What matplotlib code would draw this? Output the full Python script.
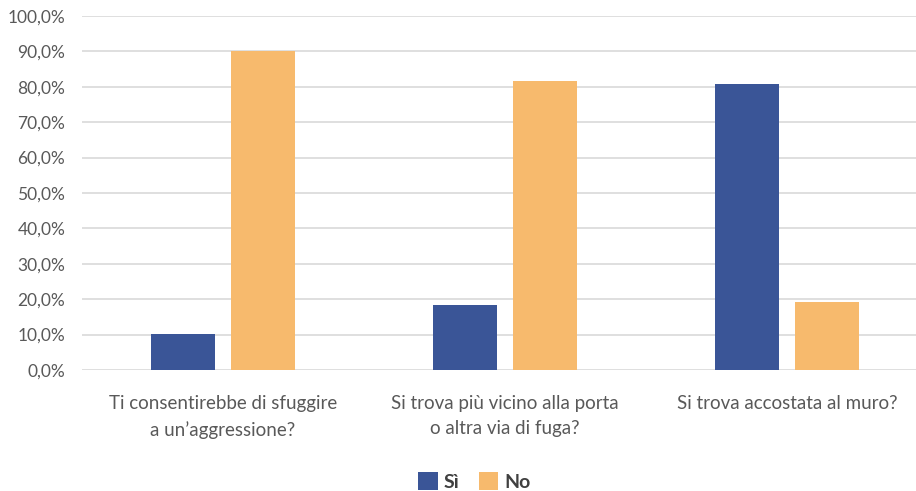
import numpy as np
import matplotlib.pyplot as plt
from matplotlib.ticker import FuncFormatter

plt.rcParams['font.family'] = ['Lato', 'DejaVu Sans']

categorie = ['Ti consentirebbe di sfuggire\na un\u2019aggressione?',
             'Si trova più vicino alla porta\no altra via di fuga?',
             'Si trova accostata al muro?']
si = [0.102, 0.184, 0.807]
no = [0.900, 0.817, 0.192]

col_si = '#3A5597'
col_no = '#F7BA6D'
grigio = '#595959'

fig = plt.figure(figsize=(9.16, 4.91), dpi=100)
ax = fig.add_axes([0.0895, 0.2464, 0.9236, 0.721])

x = np.arange(len(categorie))
w = 0.23
off = 0.142
ax.bar(x - off, si, width=w, color=col_si, label='Sì', zorder=3)
ax.bar(x + off, no, width=w, color=col_no, label='No', zorder=3)

ax.set_xlim(-0.5, 2.5)
ax.set_ylim(0, 1.0)
ax.set_yticks(np.arange(0, 1.01, 0.1))
ax.yaxis.set_major_formatter(FuncFormatter(lambda v, p: f'{v*100:.1f}%'.replace('.', ',')))
ax.set_xticks(x)
ax.set_xticklabels(categorie, fontsize=13.5, color=grigio, linespacing=1.6)

ax.grid(axis='y', color='#D9D9D9', linewidth=1.2, zorder=0)
for s in ax.spines.values():
    s.set_visible(False)
ax.tick_params(axis='both', length=0)
ax.tick_params(axis='y', labelsize=12.5, labelcolor=grigio, pad=12)
ax.tick_params(axis='x', pad=18)

fig.legend(loc='lower center', bbox_to_anchor=(0.518, -0.035), ncol=2, frameon=False,
           handlelength=1.0, handleheight=1.0, handletextpad=0.3, columnspacing=1.0,
           prop={'weight': 'bold', 'size': 14}, labelcolor='#404040')

fig.savefig('out.png', dpi=100)
